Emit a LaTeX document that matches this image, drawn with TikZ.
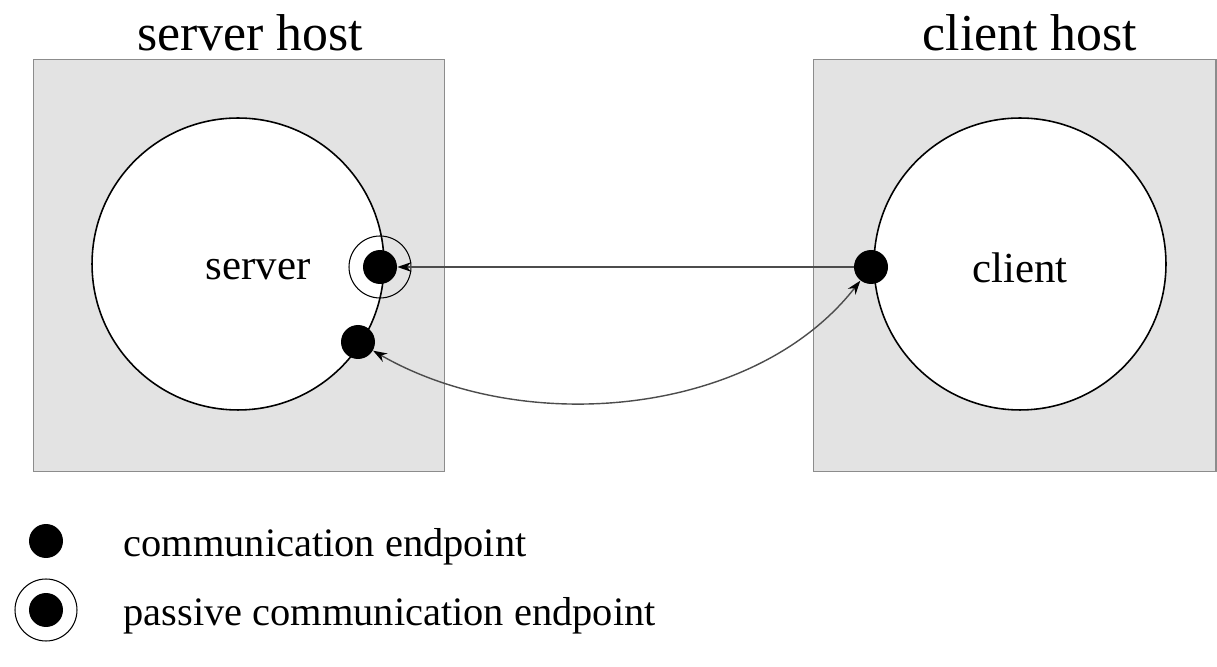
\documentclass[tikz,border=0pt]{standalone}
\usepackage{fontspec}
\setmainfont{Liberation Serif}
\usepackage{tikz}
\usetikzlibrary{shapes.geometric, arrows.meta, positioning, calc}
\definecolor{hostgray}{HTML}{E3E3E3}
\definecolor{edgegray}{HTML}{8C8C8C}

\begin{document}
\begin{tikzpicture}[x=0.02cm, y=0.02cm, node distance=1.2cm]
    \tikzstyle{host} = [rectangle, draw=edgegray, fill=hostgray, line width=0.6pt, minimum width=8.24cm, minimum height=8.26cm]
    \tikzstyle{proc} = [circle, draw=black, fill=white, line width=0.9pt, minimum size=5.84cm, font=\fontsize{24.4}{28}\selectfont]
    \tikzstyle{endpt} = [circle, fill=black, minimum size=0.68cm, inner sep=0pt]
    \tikzstyle{ring} = [circle, draw=black, line width=0.6pt, minimum size=1.24cm, inner sep=0pt]
    \tikzstyle{hostlabel} = [font=\fontsize{29.5}{34}\selectfont]
    \tikzstyle{legendtext} = [inner sep=0pt, anchor=west, yshift=-0.12cm, font=\fontsize{23}{27}\selectfont]
    \tikzstyle{arrow} = [draw=black!70, line width=0.8pt, ->, >={Stealth[length=8pt, width=5.5pt, color=black]}]

    \useasboundingbox (0,0) rectangle (1217,666);

    % hosts
    \node (serverhost) [host] at (239,400.5) {};
    \node (clienthost) [host, minimum width=8.06cm] at (1014.5,400.5) {};
    \node (serverhostlabel) [hostlabel] at (250,633) {server host};
    \node (clienthostlabel) [hostlabel] at (1030,633) {client host};

    % processes
    \node (server) [proc] at (238,402) {};
    \node (client) [proc] at (1020,402) {};
    \node (serverlabel) [font=\fontsize{24.4}{28}\selectfont] at (258,396) {server};
    \node (clientlabel) [font=\fontsize{24.4}{28}\selectfont] at (1020,398) {client};

    % endpoints
    \node (passivering) [ring] at (380,399) {};
    \node (passive) [endpt] at (380,399) {};
    \node (sep) [endpt] at (358,324) {};
    \node (cep) [endpt] at (871,399) {};

    \draw [arrow] (cep) -- (passive);
    \draw [arrow, <->] (sep) to[out=-30, in=-128, looseness=0.9] (cep);

    % legend
    \node (legdot) [endpt] at (46,125) {};
    \node (legring) [ring] at (46,56) {};
    \node (legpassive) [endpt] at (46,56) {};
    \node (legdottext) [legendtext, right=1.2cm of legdot] {communication endpoint};
    \node (legpassivetext) [legendtext, right=1.2cm of legpassive] {passive communication endpoint};
\end{tikzpicture}
\end{document}
